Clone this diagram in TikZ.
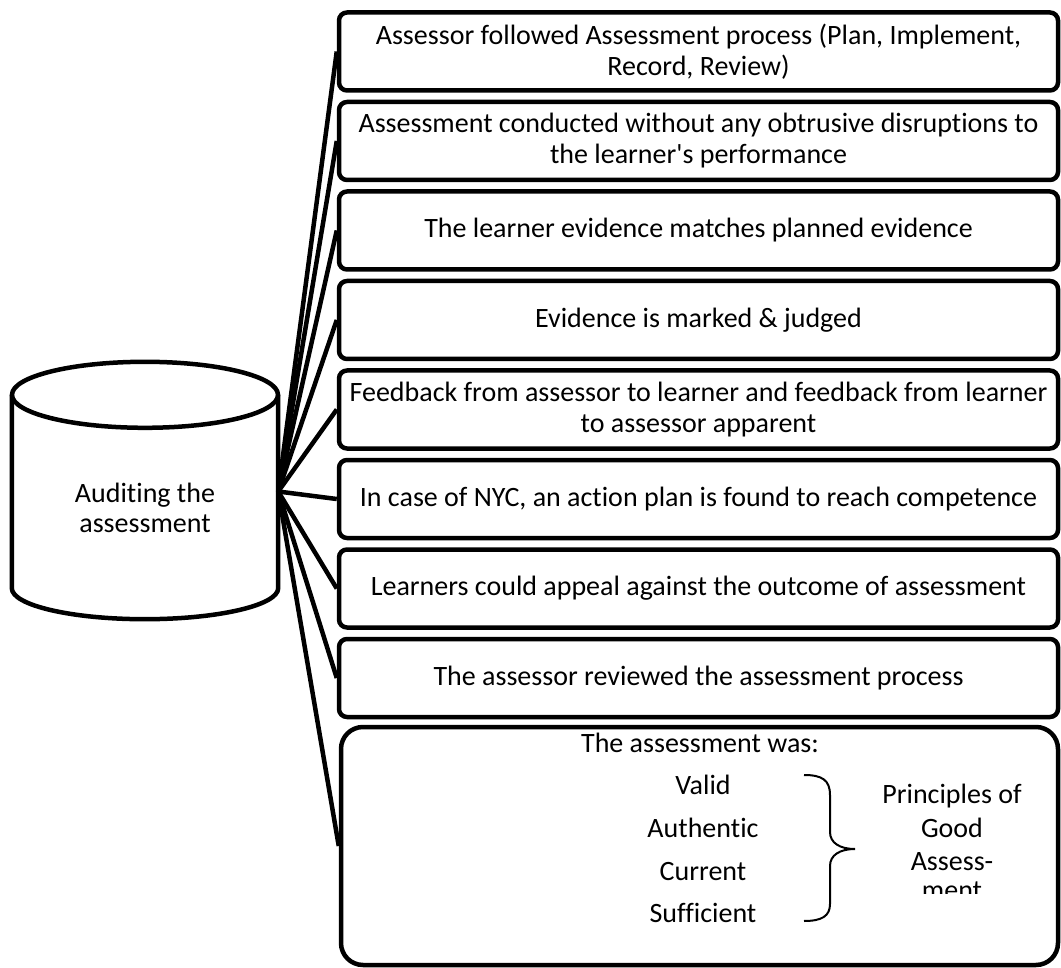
\documentclass[tikz,border=0pt]{standalone}
\usepackage{fontspec}
\setmainfont{Carlito}[Ligatures={TeXOff,CommonOff}]
\begin{document}
\begin{tikzpicture}[x=1pt,y=-1pt,
  outline/.style={line width=4.5pt, black},
  itembox/.style={draw, line width=4.5pt, rounded corners=8pt,
    minimum width=719pt, minimum height=78pt, inner sep=0pt,
    align=center, font=\fontsize{28}{31}\selectfont},
  bigbox/.style={draw, line width=4.5pt, rounded corners=22pt,
    minimum width=717pt, minimum height=238pt, inner sep=0pt},
  link/.style={line width=4.5pt},
  txt/.style={inner sep=0pt, font=\fontsize{28}{31}\selectfont},
  bracepen/.style={line width=2pt}]
\useasboundingbox (0,0) rectangle (1061,968);

% cylinder body: invisible node spanning the straight part
\node[minimum width=266pt, minimum height=193pt, inner sep=0pt] (audit) at (145,491.5) {};
\draw[outline] (audit.north west) -- (audit.south west)
  .. controls ++(0,17) and ++(-73.4,0) .. ++(133,31)
  .. controls ++(73.4,0) and ++(0,17) .. (audit.south east)
  -- (audit.north east);
\draw[outline] (audit.north) ellipse [x radius=133, y radius=33];
\node[txt, align=center, font=\fontsize{28}{30}\selectfont] (auditlabel) at (145,508) {Auditing the\\assessment};

% checklist boxes
\node[itembox] (b1) at (698.5,51.5) {Assessor followed Assessment process (Plan, Implement,\\Record, Review)};
\node[itembox] (b2) at (698.5,141) {Assessment conducted without any obtrusive disruptions to\\the learner's performance};
\node[itembox] (b3) at (698.5,230.5) {The learner evidence matches planned evidence};
\node[itembox] (b4) at (698.5,320) {Evidence is marked \& judged};
\node[itembox] (b5) at (698.5,409.5) {Feedback from assessor to learner and feedback from learner\\to assessor apparent};
\node[itembox] (b6) at (698.5,499) {In case of NYC, an action plan is found to reach competence};
\node[itembox] (b7) at (698.5,588.5) {Learners could appeal against the outcome of assessment};
\node[itembox] (b8) at (698.5,678) {The assessor reviewed the assessment process};
\node[bigbox] (b9) at (699.5,846) {};

% contents of the last box
\node[txt, anchor=base] (was) at (700,752) {The assessment was:};
\node[txt, anchor=base] (valid) at (703,794) {Valid};
\node[txt, anchor=base] (authentic) at (703,837) {Authentic};
\node[txt, anchor=base] (current) at (703,880) {Current};
\node[txt, anchor=base] (sufficient) at (703,922) {Sufficient};
\draw[bracepen] (804,775) .. controls (822,775) and (830,780) .. (830,795)
  -- (830,832) .. controls (830,843) and (840,849) .. (855,849)
  .. controls (840,849) and (830,855) .. (830,866)
  -- (830,904) .. controls (830,916) and (822,921) .. (804,921);
\begin{scope}
  \clip (860,770) rectangle (1045,893);
  \node[txt, anchor=base] (pr1) at (952,803) {Principles of};
  \node[txt, anchor=base] (pr2) at (952,837) {Good};
  \node[txt, anchor=base] (pr3) at (952,870) {Assess-};
  \node[txt, anchor=base] (pr4) at (952,899) {ment};
\end{scope}

% connectors from the cylinder to each box
\foreach \b in {b1,b2,b3,b4,b5,b6,b7,b8,b9}
  \draw[link] (audit.east) -- (\b.west);
\end{tikzpicture}
\end{document}
